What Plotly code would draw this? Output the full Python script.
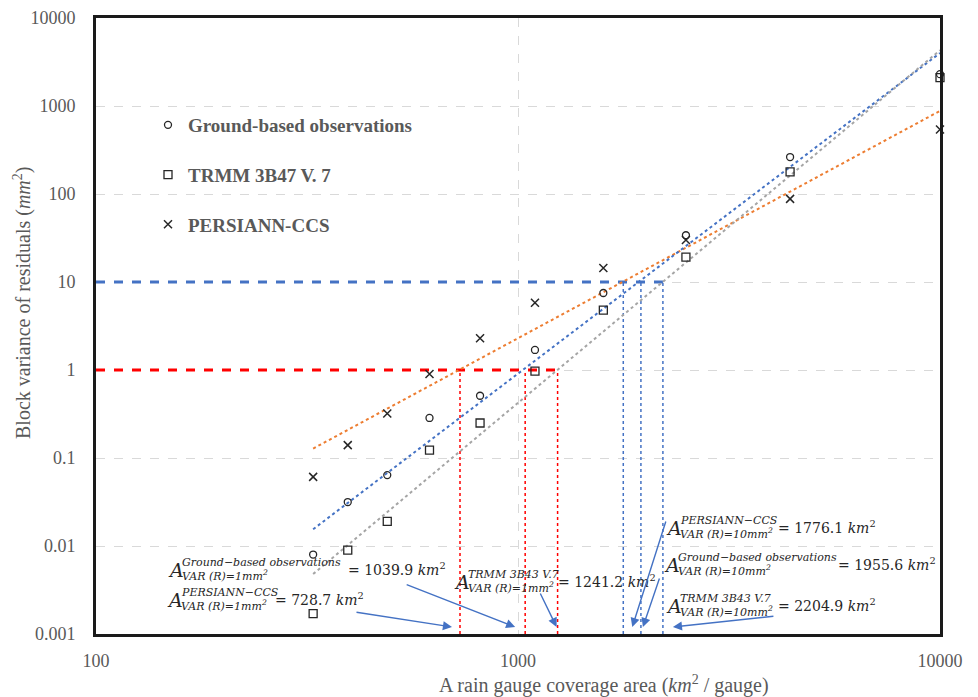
import math
import plotly.graph_objects as go

# ---------------- data ----------------
area = [327, 395, 490, 617, 813, 1097, 1593, 2500, 4413, 10000]
ground = [0.0080, 0.0316, 0.064, 0.285, 0.51, 1.69, 7.5, 34, 263, 2300]
trmm = [0.0017, 0.009, 0.019, 0.123, 0.25, 0.97, 4.8, 19.2, 178, 2100]
persiann = [0.061, 0.14, 0.32, 0.9, 2.3, 5.8, 14.4, 30, 88, 540]

trend_x = [327, 10000]
ground_trend = [0.0155, 4000]
trmm_trend = [0.0048, 4300]
persiann_trend = [0.128, 880]

thr_1mm = [728.7, 1039.9, 1241.2]      # PERSIANN, Ground, TRMM
thr_10mm = [1776.1, 1955.6, 2204.9]    # PERSIANN, Ground, TRMM
x_min, y_min = 100, 0.001

y_tick_vals = [0.001, 0.01, 0.1, 1, 10, 100, 1000, 10000]
y_tick_text = ["0.001", "0.01", "0.1", "1", "10", "100", "1000", "10000"]
x_tick_vals = [100, 1000, 10000]
x_tick_text = ["100", "1000", "10000"]

GRAY_TXT = "#595959"
BLUE = "#4472C4"
ORANGE = "#ED7D31"
GREY = "#A5A5A5"
RED = "#FF0000"
SERIF = "Liberation Serif"

fig = go.Figure()

# threshold lines
fig.add_trace(go.Scatter(x=[x_min, max(thr_1mm)], y=[1, 1], mode="lines",
                         line=dict(color=RED, width=3, dash="dash"), showlegend=False, hoverinfo="skip"))
fig.add_trace(go.Scatter(x=[x_min, max(thr_10mm)], y=[10, 10], mode="lines",
                         line=dict(color=BLUE, width=3, dash="dash"), showlegend=False, hoverinfo="skip"))
for t in thr_1mm:
    fig.add_trace(go.Scatter(x=[t, t], y=[y_min, 1], mode="lines",
                             line=dict(color=RED, width=1.5, dash="dot"), showlegend=False, hoverinfo="skip"))
for t in thr_10mm:
    fig.add_trace(go.Scatter(x=[t, t], y=[y_min, 10], mode="lines",
                             line=dict(color=BLUE, width=1.5, dash="dot"), showlegend=False, hoverinfo="skip"))

# trend lines
for ty, col in [(persiann_trend, ORANGE), (ground_trend, BLUE), (trmm_trend, GREY)]:
    fig.add_trace(go.Scatter(x=trend_x, y=ty, mode="lines",
                             line=dict(color=col, width=2, dash="dot"), showlegend=False, hoverinfo="skip"))

# data points
mk_col = "#262626"
fig.add_trace(go.Scatter(x=area, y=ground, mode="markers", name="Ground-based observations",
                         legendgroup="g1",
                         marker=dict(symbol="circle-open", size=7, color=mk_col, line=dict(width=1.3)),
                         cliponaxis=False))
fig.add_trace(go.Scatter(x=area, y=trmm, mode="markers", name="TRMM 3B47 V. 7",
                         legendgroup="g2",
                         marker=dict(symbol="square-open", size=8, color=mk_col, line=dict(width=1.3)),
                         cliponaxis=False))
fig.add_trace(go.Scatter(x=area, y=persiann, mode="markers", name="PERSIANN-CCS",
                         legendgroup="g3",
                         marker=dict(symbol="x-thin-open", size=8, color=mk_col, line=dict(width=1.5)),
                         cliponaxis=False))

# ---------------- annotation helpers ----------------
L, R, T, B = 96, 940, 18, 634


def px_x(px):
    return (px - L) / (R - L)


def px_y(py):
    return (B - py) / (B - T)


annotations = []


def txt(px, py, text, size, xanchor="left", family="DejaVu Serif", color="#262626", angle=0):
    annotations.append(dict(x=px_x(px), y=px_y(py), xref="paper", yref="paper", text=text,
                            showarrow=False, xanchor=xanchor, yanchor="middle", textangle=angle,
                            font=dict(family=family, size=size, color=color)))


def label(ax_px, ay_px, sup, sub, value, eq_px, sup_dy=-7, sub_dy=6):
    txt(ax_px - 2, ay_px + 1, "<i>A</i>", 19)
    txt(ax_px + 12, ay_px + sup_dy, "<i>" + sup + "</i>", 11)
    txt(ax_px + 12, ay_px + sub_dy, "<i>" + sub + "</i>", 11)
    txt(eq_px, ay_px, "= " + value + " <i>km</i><sup>2</sup>", 14)


label(168, 569, "Ground\u2212based observations", "VAR (R)=1mm<sup>2</sup>", "1039.9", eq_px=346)
label(167, 599, "PERSIANN\u2212CCS", "VAR (R)=1mm<sup>2</sup>", "728.7", eq_px=273)
label(454, 581, "TRMM 3B43 V.7", "VAR (R)=1mm<sup>2</sup>", "1241.2", eq_px=556)
label(666, 527, "PERSIANN\u2212CCS", "VAR (R)=10mm<sup>2</sup>", "1776.1", eq_px=776)
label(664, 564, "Ground\u2212based observations", "VAR (R)=10mm<sup>2</sup>", "1955.6", eq_px=836)
label(666, 605, "TRMM 3B43 V.7", "VAR (R)=10mm<sup>2</sup>", "2204.9", eq_px=776)

# axis titles
txt(604, 684, "A rain gauge coverage area (<i>km</i><sup>2</sup> / gauge)", 20,
    xanchor="center", family=SERIF, color=GRAY_TXT)
txt(22, 303, "Block variance of residuals (<i>mm</i><sup>2</sup>)", 20,
    xanchor="center", family=SERIF, color=GRAY_TXT, angle=-90)

# arrows: (threshold, x shift of the tip in px, tail offset ax, ay)
arrow_specs = [
    (thr_1mm[0], -8, -97, -15),
    (thr_1mm[1], -10, -110, -43),
    (thr_1mm[2], -1, -17, -35),
    (thr_10mm[0], 9, 34, -107),
    (thr_10mm[1], 2, 17, -50),
    (thr_10mm[2], 10, 102, -11),
]
for t, sh, axo, ayo in arrow_specs:
    annotations.append(dict(x=math.log10(t), y=math.log10(0.0012), xref="x", yref="y",
                            xshift=sh, text="", showarrow=True, ax=axo, ay=ayo,
                            arrowhead=2, arrowsize=1.3, arrowwidth=1.4, arrowcolor=BLUE,
                            standoff=0))

axis_font = dict(family=SERIF, size=18, color=GRAY_TXT)

fig.update_layout(
    width=978, height=697,
    margin=dict(l=L, r=978 - R, t=T, b=697 - B),
    paper_bgcolor="white", plot_bgcolor="white",
    showlegend=True,
    legend=dict(x=px_x(148), y=px_y(106), xanchor="left", yanchor="top",
                bgcolor="rgba(0,0,0,0)", tracegroupgap=22, itemwidth=30,
                font=dict(family=SERIF, size=19, color=GRAY_TXT, weight="bold")),
    annotations=annotations,
    xaxis=dict(type="log", range=[2, 4], tickvals=x_tick_vals, ticktext=x_tick_text,
               tickfont=axis_font, ticklabelstandoff=8, automargin=False,
               showgrid=True, gridcolor="#D9D9D9", griddash="dash", gridwidth=1,
               showline=True, linecolor="#1a1a1a", linewidth=3, mirror=True,
               zeroline=False, ticks=""),
    yaxis=dict(type="log", range=[-3, 4], tickvals=y_tick_vals, ticktext=y_tick_text,
               tickfont=axis_font, ticklabelstandoff=14, automargin=False,
               showgrid=True, gridcolor="#D9D9D9", griddash="dash", gridwidth=1,
               showline=True, linecolor="#1a1a1a", linewidth=3, mirror=True,
               zeroline=False, ticks=""),
)

fig.write_html("out.html")
